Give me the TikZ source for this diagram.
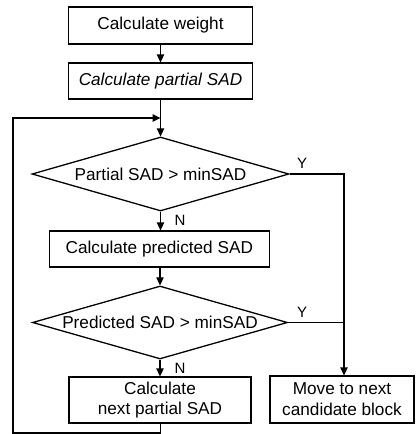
\documentclass[tikz,border=0pt]{standalone}
\usepackage{fontspec}
\setmainfont{Liberation Sans}
\usetikzlibrary{shapes.geometric,arrows.meta}
\begin{document}
\begin{tikzpicture}[x=1pt,y=-1pt,
  line width=1.3pt,
  font=\fontsize{17.2}{20.7}\selectfont,
  box/.style={draw,rectangle,inner sep=0pt,align=center},
  dia/.style={draw,diamond,inner sep=0pt,aspect=3.47},
  arr/.style={-{Triangle[length=8pt,width=7.5pt]}},
  lbl/.style={font=\fontsize{15}{18}\selectfont,inner sep=0pt}]
\useasboundingbox (0,0) rectangle (419,434);
\node[box,minimum width=184pt,minimum height=37pt] (w) at (160.5,25.5) {Calculate weight};
\node[box,minimum width=184pt,minimum height=36pt] (p) at (160.5,81) {\itshape Calculate partial SAD};
\node[dia,minimum width=257pt,minimum height=74pt] (d1) at (160.5,174) {Partial SAD > minSAD};
\node[box,minimum width=220pt,minimum height=36pt] (c) at (159.3,249) {Calculate predicted SAD};
\node[dia,minimum width=255pt,minimum height=73pt] (d2) at (160,322.5) {Predicted SAD > minSAD};
\node[box,minimum width=182pt,minimum height=46pt] (n) at (160,400) {Calculate\\next partial SAD};
\node[box,minimum width=144pt,minimum height=47pt] (m) at (342,399.5) {Move to next\\candidate block};
\coordinate (j) at (160.5,118);
\coordinate (r1) at (344,174);
\coordinate (r2) at (344,322.5);
\coordinate (b) at (160.5,433);
\coordinate (bl) at (13,433);
\coordinate (tl) at (13,118);
\draw[arr] (w) -- (p);
\draw[arr] (p) -- (d1);
\draw[arr] (d1.south) -- (d1.south |- c.north);
\draw[arr] (c.south -| d2.north) -- (d2.north);
\draw[arr] (d2.south) -- (d2.south |- n.north);
\draw[arr] (d1.east) -- (r1) -- (m.north -| r1);
\draw (d2.east) -- (r2);
\draw[arr] (n.south -| b) -- (b) -- (bl) -- (tl) -- (j);
\node[lbl] (y1) at (302,163) {Y};
\node[lbl] (y2) at (302,312) {Y};
\node[lbl] (n1) at (180,220) {N};
\node[lbl] (n2) at (180,368) {N};
\end{tikzpicture}
\end{document}
